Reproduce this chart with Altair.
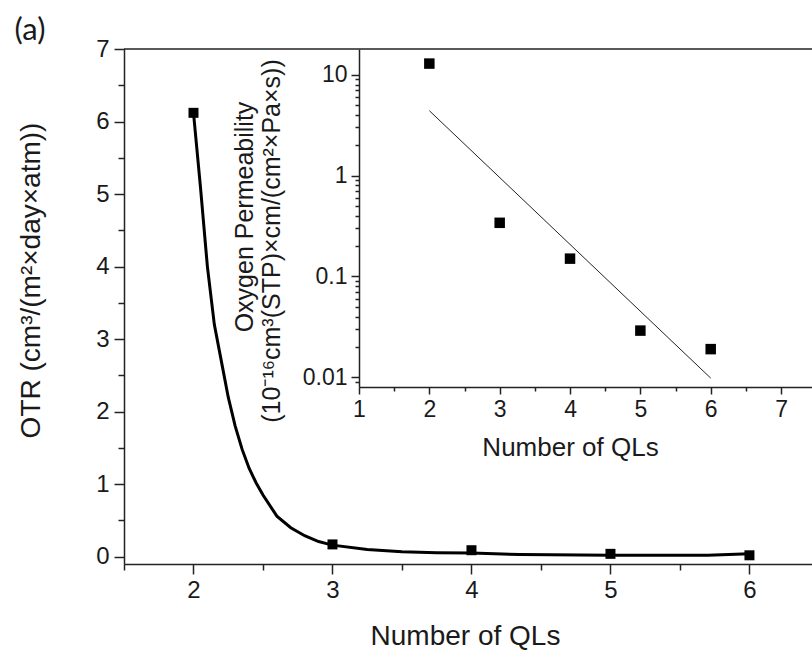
import altair as alt
import pandas as pd

# ---------------- main panel: OTR vs number of QLs ----------------
qls = [2, 3, 4, 5, 6]
otr = [6.12, 0.17, 0.09, 0.04, 0.02]

fit_x = [2.0, 2.05, 2.1, 2.15, 2.2, 2.25, 2.3, 2.35, 2.4, 2.45, 2.5, 2.6, 2.7,
         2.8, 2.9, 3.0, 3.25, 3.5, 3.75, 4.0, 4.35, 5.0, 5.7, 6.0]
fit_y = [6.12, 5.1, 4.0, 3.2, 2.7, 2.2, 1.8, 1.48, 1.22, 1.02, 0.85, 0.56, 0.40,
         0.29, 0.21, 0.16, 0.10, 0.07, 0.055, 0.05, 0.03, 0.02, 0.02, 0.04]

main_x_major = [2, 3, 4, 5, 6]
main_x_minor = [1.5, 2.5, 3.5, 4.5, 5.5]
main_y_major = [0, 1, 2, 3, 4, 5, 6, 7]
main_y_minor = [0.5, 1.5, 2.5, 3.5, 4.5, 5.5, 6.5]

# ---------------- inset: oxygen permeability (log) ----------------
inset_qls = [2, 3, 4, 5, 6]
perm = [12.9, 0.34, 0.15, 0.029, 0.019]
perm_fit_x = [2, 6]
perm_fit_y = [4.4, 0.0098]

inset_x_major = [1, 2, 3, 4, 5, 6, 7]
inset_x_minor = [1.5, 2.5, 3.5, 4.5, 5.5, 6.5]
inset_y_major = [0.01, 0.1, 1, 10]
inset_y_minor = [0.009, 0.02, 0.03, 0.04, 0.05, 0.06, 0.07, 0.08, 0.09,
                 0.2, 0.3, 0.4, 0.5, 0.6, 0.7, 0.8, 0.9,
                 2, 3, 4, 5, 6, 7, 8, 9]

FONT = "Liberation Sans"
TXT = "#1a1a1a"

df_main = pd.DataFrame({"x": qls, "y": otr})
df_fit = pd.DataFrame({"x": fit_x, "y": fit_y})
df_in = pd.DataFrame({"x": inset_qls, "y": perm})
df_in_fit = pd.DataFrame({"x": perm_fit_x, "y": perm_fit_y})

W, H = 688, 515

common = dict(labelFont=FONT, titleFont=FONT, labelColor=TXT, titleColor=TXT,
              domainColor="#222", domainWidth=1.5, tickColor="#222",
              tickWidth=1.5, grid=False)

xs_main = alt.Scale(domain=[1.5, 6.45], nice=False, zero=False)
ys_main = alt.Scale(domain=[-0.1, 7], nice=False, zero=False)

main_x_axis = alt.Axis(
    orient="bottom", values=main_x_major, format="d", title="Number of QLs",
    tickSize=10, labelFontSize=24, titleFontSize=28, titleFontWeight="normal",
    labelPadding=4, labelFlush=False, labelOverlap=False,
    titleX=341, titleY=72, titleBaseline="middle", titleAnchor="middle",
    **common,
)
main_y_axis = alt.Axis(
    orient="left", values=main_y_major, format="d", title="OTR (cm³/(m²×day×atm))",
    tickSize=10, labelFontSize=24, titleFontSize=28, titleFontWeight="normal",
    labelPadding=5, labelFlush=False, labelOverlap=False,
    titleX=-93, titleY=231, titleBaseline="middle", titleAngle=-90,
    titleAlign="center",
    **common,
)
main_x_minor_axis = alt.Axis(
    orient="bottom", values=main_x_minor, labels=False, domain=False, tickSize=6,
    title=None, **common,
)
main_y_minor_axis = alt.Axis(
    orient="left", values=main_y_minor, labels=False, domain=False, tickSize=6,
    title=None, **common,
)

main_line = alt.Chart(df_fit).mark_line(color="black", strokeWidth=3).encode(
    x=alt.X("x:Q", scale=xs_main, axis=main_x_axis),
    y=alt.Y("y:Q", scale=ys_main, axis=main_y_axis),
)
main_pts = alt.Chart(df_main).mark_square(size=100, color="black", opacity=1).encode(
    x="x:Q", y="y:Q",
)
main_minor = alt.Chart(df_main).mark_point(opacity=0).encode(
    x=alt.X("x:Q", axis=main_x_minor_axis),
    y=alt.Y("y:Q", axis=main_y_minor_axis),
)
one = pd.DataFrame({"t": ["(a)"]})
top_rule = alt.Chart(one).mark_rule(color="#222", strokeWidth=1.5).encode(
    x=alt.value(0), x2=alt.value(W), y=alt.value(0)
)
a_label = alt.Chart(one).mark_text(
    font="Lato", fontSize=31, color=TXT, align="center", baseline="middle"
).encode(text="t:N", x=alt.value(-94), y=alt.value(-18))

main_group = alt.layer(
    alt.layer(main_line, main_pts, top_rule, a_label), main_minor
).resolve_axis(x="independent", y="independent")

# inset scales: positioned inside the same plot area via explicit ranges
xs_in = alt.Scale(domain=[1, 7.44], range=[235, W], nice=False, zero=False)
ys_in = alt.Scale(type="log", domain=[0.008, 18], range=[338, 0], nice=False)

inset_x_axis = alt.Axis(
    orient="bottom", offset=-177, values=inset_x_major, format="d",
    title="Number of QLs", tickSize=7,
    labelFontSize=23, titleFontSize=26, titleFontWeight="normal",
    labelPadding=4, labelFlush=False, labelOverlap=False,
    titleX=446, titleY=60, titleBaseline="middle", titleAnchor="middle",
    **common,
)
inset_y_axis = alt.Axis(
    orient="left", offset=-235, values=inset_y_major, format="~g", title=None,
    tickSize=8, labelFontSize=23, labelPadding=4, labelFlush=False,
    labelOverlap=False, **common,
)
inset_x_minor_axis = alt.Axis(
    orient="bottom", offset=-177, values=inset_x_minor, labels=False,
    domain=False, tickSize=4, title=None, **common,
)
inset_y_minor_axis = alt.Axis(
    orient="left", offset=-235, values=inset_y_minor, labels=False,
    domain=False, tickSize=4, title=None, **common,
)

inset_line = alt.Chart(df_in_fit).mark_line(color="#222", strokeWidth=1).encode(
    x=alt.X("x:Q", scale=xs_in, axis=inset_x_axis),
    y=alt.Y("y:Q", scale=ys_in, axis=inset_y_axis),
)
inset_pts = alt.Chart(df_in).mark_square(size=110, color="black", opacity=1).encode(
    x="x:Q", y="y:Q",
)
inset_minor = alt.Chart(df_in).mark_point(opacity=0).encode(
    x=alt.X("x:Q", axis=inset_x_minor_axis),
    y=alt.Y("y:Q", axis=inset_y_minor_axis),
)
t1 = pd.DataFrame({"t": ["Oxygen Permeability"]})
t2 = pd.DataFrame({"t": ["(10⁻¹⁶cm³(STP)×cm/(cm²×Pa×s))"]})
ytitle1 = alt.Chart(t1).mark_text(
    font=FONT, fontSize=25, color=TXT, angle=270, align="center", baseline="middle"
).encode(text="t:N", x=alt.value(121), y=alt.value(168))
ytitle2 = alt.Chart(t2).mark_text(
    font=FONT, fontSize=25, color=TXT, angle=270, align="center", baseline="middle"
).encode(text="t:N", x=alt.value(148), y=alt.value(192))

inset_group = alt.layer(
    alt.layer(inset_line, inset_pts, ytitle1, ytitle2), inset_minor
).resolve_axis(x="independent", y="independent")

chart = (
    alt.layer(main_group, inset_group)
    .resolve_scale(x="independent", y="independent")
    .properties(
        width=W, height=H,
        autosize=alt.AutoSizeParams(type="none"),
        padding={"left": 124, "top": 49, "right": 0, "bottom": 90},
        background="white",
    )
    .configure_view(stroke=None)
    .configure_axis(labelFont=FONT, titleFont=FONT)
)

chart.save("out.html", embed_options={"renderer": "svg", "actions": False})
